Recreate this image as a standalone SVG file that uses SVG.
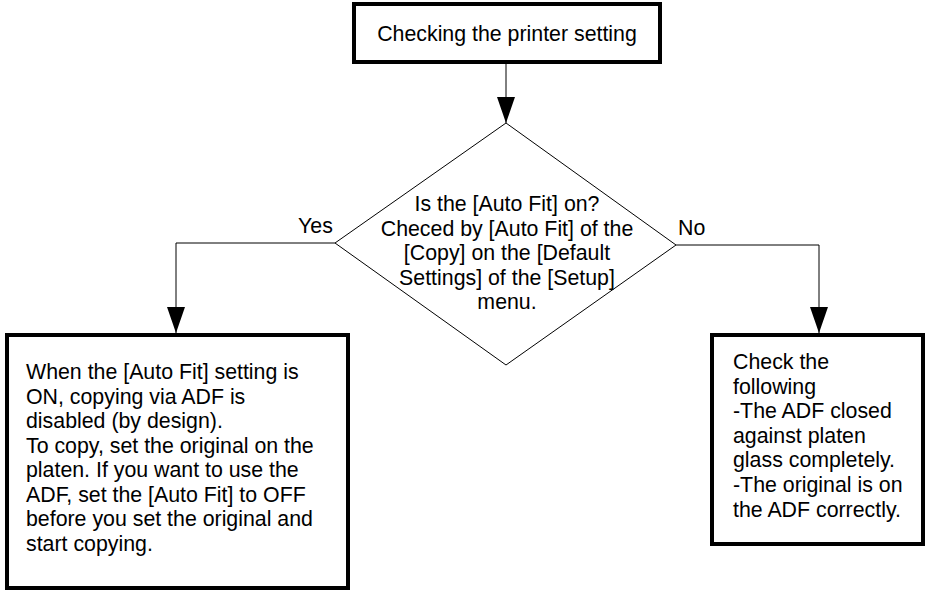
<svg xmlns="http://www.w3.org/2000/svg" width="926" height="592" viewBox="0 0 926 592">
<defs>
<style>
.box{fill:#fff;stroke:#000;stroke-width:4}
.dia{fill:#fff;stroke:#000;stroke-width:1}
.t{font-family:"Liberation Sans",Arial,sans-serif;font-size:21.33px;fill:#000}
.c{text-anchor:middle}
.ln{fill:none;stroke:#000;stroke-width:1}
</style>
<marker id="ah" markerUnits="userSpaceOnUse" markerWidth="26" markerHeight="18" refX="26" refY="9" viewBox="0 0 26 18" orient="auto">
<path d="M0,0 L26,9 L0,18 Z" fill="#000"/>
</marker>
</defs>
<rect width="926" height="592" fill="#fff"/>
<g id="connectors">
<path class="ln" d="M506,64 L506,123" marker-end="url(#ah)"/>
<path class="ln" d="M335,243 L176,243 L176,333" marker-end="url(#ah)"/>
<path class="ln" d="M676,245 L819,245 L819,333" marker-end="url(#ah)"/>
<text class="t" x="298" y="233">Yes</text>
<text class="t" x="678" y="235">No</text>
</g>
<g id="start">
<rect class="box" x="354" y="4" width="306" height="58"/>
<text class="t c" x="507" y="41">Checking the printer setting</text>
</g>
<g id="decision">
<polygon class="dia" points="506,123 676,245 506,365 335,243"/>
<text class="t c" x="507" y="211">Is the [Auto Fit] on?</text>
<text class="t c" x="507" y="235.5">Checed by [Auto Fit] of the</text>
<text class="t c" x="507" y="260">[Copy] on the [Default</text>
<text class="t c" x="507" y="284.5">Settings] of the [Setup]</text>
<text class="t c" x="507" y="309">menu.</text>
</g>
<g id="yes-box">
<rect class="box" x="7" y="335" width="341" height="253"/>
<text class="t" x="26" y="379">When the [Auto Fit] setting is</text>
<text class="t" x="26" y="403.5">ON, copying via ADF is</text>
<text class="t" x="26" y="428">disabled (by design).</text>
<text class="t" x="26" y="452.5">To copy, set the original on the</text>
<text class="t" x="26" y="477">platen. If you want to use the</text>
<text class="t" x="26" y="501.5">ADF, set the [Auto Fit] to OFF</text>
<text class="t" x="26" y="526">before you set the original and</text>
<text class="t" x="26" y="550.5">start copying.</text>
</g>
<g id="no-box">
<rect class="box" x="712" y="335" width="211" height="209"/>
<text class="t" x="733" y="369">Check the</text>
<text class="t" x="733" y="393.6">following</text>
<text class="t" x="733" y="418.2">-The ADF closed</text>
<text class="t" x="733" y="442.8">against platen</text>
<text class="t" x="733" y="467.4">glass completely.</text>
<text class="t" x="733" y="492">-The original is on</text>
<text class="t" x="733" y="516.6">the ADF correctly.</text>
</g>
</svg>
